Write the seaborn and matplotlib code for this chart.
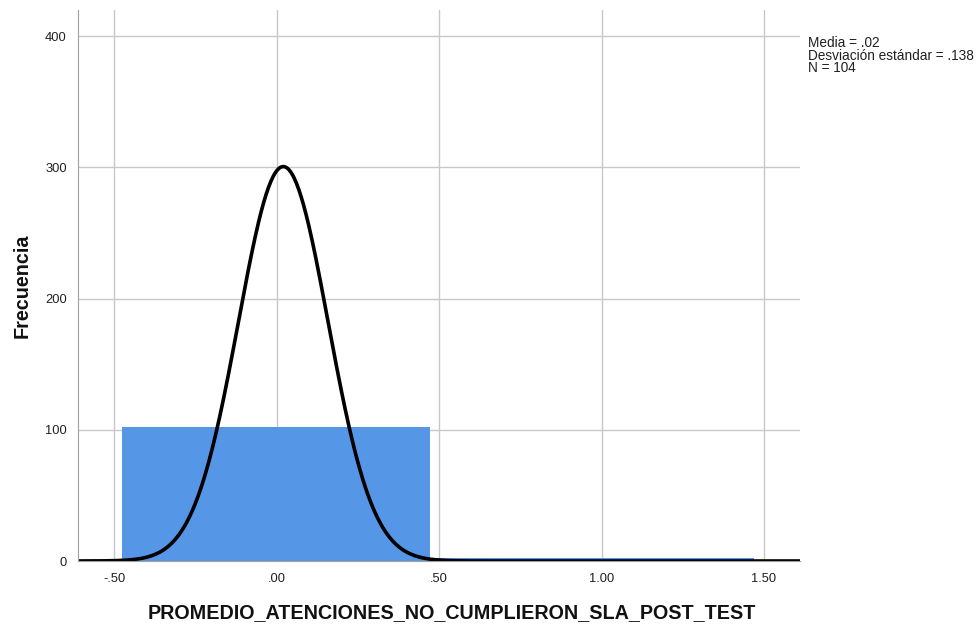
import numpy as np
import pandas as pd
import seaborn as sns
import matplotlib.pyplot as plt

sns.set_style('white')
plt.rcParams['font.family'] = ['Liberation Sans', 'DejaVu Sans']

# histogram
bin_edges = [-0.477, 0.471, 1.47]
bin_counts = [102, 2]
media = 0.02
desviacion = 0.138
n_total = 104
x_ticks = [-0.5, 0.0, 0.5, 1.0, 1.5]
x_tick_labels = ['-.50', '.00', '.50', '1.00', '1.50']
y_ticks = [0, 100, 200, 300, 400]

centers = [(a + b) / 2 for a, b in zip(bin_edges[:-1], bin_edges[1:])]
df = pd.DataFrame({'valor': centers, 'frecuencia': bin_counts})

fig = plt.figure(figsize=(9.8, 6.25), dpi=100)
ax = fig.add_axes([0.0796, 0.1024, 0.7367, 0.8816])

ax.set_axisbelow(True)
ax.grid(True, color='#c8c8c8', linewidth=1)

sns.histplot(data=df, x='valor', weights='frecuencia', bins=bin_edges,
             color='#5596e6', alpha=1, edgecolor='none', linewidth=0, ax=ax)

# normal curve (SPSS scales it with N and unit width)
xs = np.linspace(-0.62, 1.62, 600)
ys = n_total * np.exp(-0.5 * ((xs - media) / desviacion) ** 2) / (desviacion * np.sqrt(2 * np.pi))
sns.lineplot(x=xs, y=ys, color='black', linewidth=2.6, ax=ax)

ax.set_xlim(-0.612, 1.611)
ax.set_ylim(0, 420)
ax.set_xticks(x_ticks)
ax.set_xticklabels(x_tick_labels)
ax.set_yticks(y_ticks)
ax.tick_params(axis='both', labelsize=9.3, colors='#202020')
ax.tick_params(axis='y', length=5, color='#c8c8c8', pad=3)
ax.tick_params(axis='x', length=0, pad=9)

for s in ['top', 'right']:
    ax.spines[s].set_visible(False)
ax.spines['left'].set_color('#a0a0a0')
ax.spines['bottom'].set_color('#a0a0a0')

ax.set_xlabel('PROMEDIO_ATENCIONES_NO_CUMPLIERON_SLA_POST_TEST',
              fontsize=14.2, fontweight='bold', color='#111111')
ax.xaxis.set_label_coords(0.518, -0.077)
ax.set_ylabel('Frecuencia', fontsize=14.2, fontweight='bold', labelpad=10, color='#111111')

fig.text(0.8245, 0.943,
         'Media = .02\nDesviación estándar = .138\nN = 104',
         fontsize=9.8, va='top', ha='left', linespacing=0.9, color='#202020')

fig.savefig('out.png', dpi=100)
